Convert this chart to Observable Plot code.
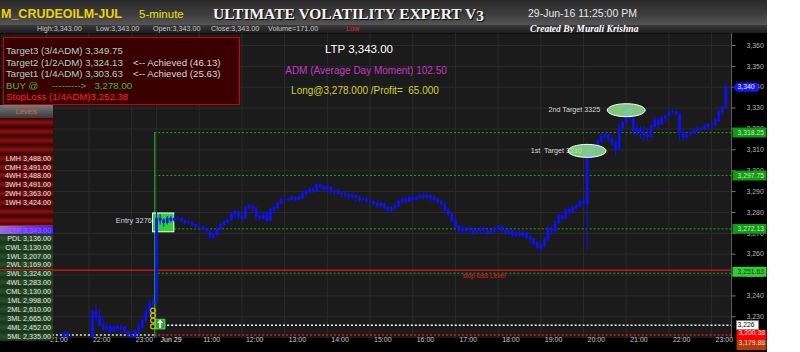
<!DOCTYPE html>
<html><head><meta charset="utf-8">
<script src="https://cdn.jsdelivr.net/npm/d3@7"></script>
<script src="https://cdn.jsdelivr.net/npm/@observablehq/plot@0.6"></script>
<style>
html,body{margin:0;padding:0;background:#fff;width:800px;height:352px;overflow:hidden;font-family:"Liberation Sans",Arial,sans-serif;}
#wrap{position:relative;width:767px;height:352px;background:#000;overflow:hidden;}
#band1{position:absolute;left:0;top:0;width:767px;height:25px;background:linear-gradient(#2a2a2a,#3c3c3c 55%,#565656);}
#band2{position:absolute;left:0;top:25px;width:767px;height:8px;background:linear-gradient(#3a3a3a,#1e1e1e);}
.t{position:absolute;white-space:nowrap;line-height:1;transform:translateY(-50%);}
.c{position:absolute;white-space:nowrap;line-height:1;transform:translate(-50%,-50%);}
#chart{position:absolute;left:0;top:33px;}
#info{position:absolute;left:3px;top:37px;width:237px;height:68px;box-sizing:border-box;background:#3a0000;border:1.5px solid #d00000;}
.il{position:absolute;left:2px;white-space:nowrap;font-size:9.7px;line-height:1;transform:translateY(-50%);}
#panel{position:absolute;left:0;top:105px;width:53px;}
.row{position:absolute;left:0;width:53px;height:9px;box-sizing:border-box;font-size:7.2px;color:#e4e4e4;text-align:right;padding-right:2px;line-height:9px;white-space:nowrap;}
.red{background:linear-gradient(#3c0404,#8a1010 50%,#3c0404);}
.grn{background:linear-gradient(#1a381a,#2a4e2a 50%,#173217);}
</style></head>
<body>
<div id="wrap">
  <div id="band1"></div><div id="band2"></div>
  <div class="t" style="left:1px;top:14px;font-weight:bold;font-size:12.5px;color:#f0d000">M_CRUDEOILM-JUL</div>
  <div class="t" style="left:139px;top:15px;font-size:11.5px;color:#e6e000">5-minute</div>
  <div class="t" style="left:213px;top:14px;font-family:'Liberation Serif',serif;font-weight:bold;font-size:15.5px;color:#f4f4f4;text-shadow:1px 1px 1px #000">ULTIMATE VOLATILITY EXPERT V<span style="position:relative;top:2px">3</span></div>
  <div class="t" style="left:528px;top:13px;font-size:10.5px;color:#e6e6e6">29-Jun-16 11:25:00 PM</div>
  <div class="t" style="left:37px;top:28.5px;font-size:7.2px;color:#c8c8c8">High:3,343.00</div>
  <div class="t" style="left:96px;top:28.5px;font-size:7.2px;color:#c8c8c8">Low:3,343.00</div>
  <div class="t" style="left:153px;top:28.5px;font-size:7.2px;color:#c8c8c8">Open:3,343.00</div>
  <div class="t" style="left:211px;top:28.5px;font-size:7.2px;color:#c8c8c8">Close:3,343.00</div>
  <div class="t" style="left:268px;top:28.5px;font-size:7.2px;color:#c8c8c8">Volume=171.00</div>
  <div class="t" style="left:346px;top:28.5px;font-size:7.2px;color:#e02020">Low</div>
  <div class="t" style="left:530px;top:29px;font-family:'Liberation Serif',serif;font-style:italic;font-weight:bold;font-size:9.6px;color:#fff">Created By Murali Krishna</div>
  <div id="chart"></div>
  <div class="c" style="left:359px;top:50px;font-size:11.5px;color:#fff">LTP 3,343.00</div>
  <div class="c" style="left:366px;top:71px;font-size:10px;color:#c836c8">ADM (Average Day Moment) 102.50</div>
  <div class="c" style="left:365px;top:91px;font-size:10px;color:#d0d028">Long@3,278.000 /Profit=&nbsp; 65.000</div>
  <div id="info">
    <div class="il" style="top:13px;color:#9fd8c4">Target3 (3/4ADM) 3,349.75</div>
    <div class="il" style="top:24.5px;color:#9fd8c4">Target2 (1/2ADM) 3,324.13</div>
    <div class="il" style="top:36px;color:#9fd8c4">Target1 (1/4ADM) 3,303.63</div>
    <div class="il" style="top:47.5px;color:#3cb83c">BUY @&nbsp;&nbsp;&nbsp;&nbsp; ---------&gt;&nbsp;&nbsp; 3,278.00</div>
    <div class="il" style="top:58.5px;color:#ff2020">StopLoss (1/4ADM)3,252.38</div>
    <div class="il" style="top:24.5px;left:129px;color:#d8d8d8">&lt;-- Achieved (46.13)</div>
    <div class="il" style="top:36px;left:129px;color:#d8d8d8">&lt;-- Achieved (25.63)</div>
  </div>
  <div id="panel"></div>
</div>
<script>
// ---------------- data ----------------
// Jun 28 session, 5-minute bars from 21:00 ; Jun 29 session from 10:00
const day1Start = "21:00";
const day1Close = [3219,3218,3217,3217,3218,3222,3219,3218,3217,3216,3217,3216,3218,3232,3230,3226,3224,3225,3223,3225,3224,3225,3223,3221,3220,3223,3225,3228,3232,3236,3237];
const day1High  = [3221,3220,3219,3219,3219,3223,3222,3220,3219,3218,3219,3218,3219,3233,3236,3233,3229,3226,3226,3226,3226,3226,3225,3223,3222,3224,3227,3230,3235,3238,3239];
const day1Low   = [3217,3216,3215,3216,3216,3218,3217,3216,3215,3214,3215,3215,3216,3218,3228,3225,3223,3223,3222,3223,3223,3222,3222,3219,3218,3219,3221,3224,3227,3230,3234];
const day1Open0 = 3220;
const day2Start = "10:00";
const day2Close = [
 3277,3276,3275,3277,3276,3277,3277,3276,3275,3275,
 3274,3273,3273,3272,3271,3268,3269,3272,3274,3275,
 3276,3279,3280,3278,3277,3282,3283,3282,3278,3277,
 3279,3276,3281,3282,3284,3286,3286,3286,3287,3286,
 3287,3289,3290,3291,3290,3293,3292,3291,3292,3290,
 3290,3289,3289,3288,3287,3288,3287,3286,3286,3285,
 3285,3284,3283,3284,3282,3281,3282,3283,3285,3286,
 3285,3287,3286,3287,3288,3287,3288,3287,3286,3285,
 3284,3281,3279,3276,3273,3271,3272,3271,3272,3270,
 3271,3272,3271,3270,3271,3272,3273,3271,3270,3271,
 3269,3270,3269,3270,3268,3267,3265,3263,3264,3267,
 3272,3271,3275,3278,3277,3281,3280,3282,3283,3285,
 3284,3309,3307,3310,3314,3316,3317,3315,3313,3310,
 3320,3323,3330,3325,3319,3320,3318,3317,3316,3321,
 3324,3322,3325,3326,3328,3328,3327,3318,3316,3317,
 3318,3319,3320,3320,3321,3322,3322,3324,3328,3330,
 3340];
const day2High = [
 3280,3279,3277,3278,3278,3279,3278,3277,3276,3276,
 3275,3274,3274,3273,3272,3271,3270,3273,3275,3276,
 3277,3280,3281,3281,3279,3283,3284,3283,3281,3279,
 3280,3280,3282,3283,3285,3287,3287,3287,3288,3287,
 3288,3290,3291,3292,3292,3294,3294,3293,3293,3292,
 3291,3291,3290,3290,3289,3289,3288,3288,3287,3287,
 3286,3286,3285,3285,3284,3283,3283,3284,3286,3287,
 3287,3288,3288,3288,3289,3289,3289,3288,3288,3287,
 3286,3284,3282,3279,3276,3274,3273,3273,3273,3272,
 3272,3273,3273,3272,3272,3273,3274,3273,3272,3272,
 3271,3271,3271,3271,3270,3269,3268,3266,3265,3268,
 3273,3273,3276,3279,3279,3282,3282,3283,3284,3286,
 3286,3313,3313,3312,3315,3318,3318,3317,3317,3314,
 3322,3324,3332,3330,3325,3322,3321,3321,3320,3322,
 3326,3324,3326,3327,3329,3329,3328,3321,3319,3318,
 3319,3320,3321,3321,3322,3322,3323,3325,3329,3331,
 3341];
const day2Low = [
 3238,3274,3273,3274,3275,3275,3276,3275,3274,3274,
 3273,3272,3272,3271,3270,3267,3267,3269,3271,3273,
 3275,3276,3277,3276,3276,3278,3281,3280,3276,3276,
 3277,3275,3276,3280,3281,3284,3285,3285,3286,3285,
 3286,3286,3288,3289,3289,3290,3291,3290,3290,3289,
 3288,3288,3287,3287,3286,3286,3285,3285,3285,3284,
 3284,3283,3282,3282,3281,3280,3280,3281,3282,3284,
 3284,3285,3285,3286,3286,3286,3286,3285,3285,3284,
 3283,3280,3278,3275,3272,3270,3270,3270,3271,3269,
 3270,3270,3270,3269,3270,3270,3271,3270,3269,3269,
 3268,3268,3268,3268,3267,3265,3264,3262,3261,3263,
 3266,3269,3270,3274,3276,3277,3279,3279,3281,3282,
 3283,3262,3305,3306,3309,3313,3315,3314,3312,3307,
 3312,3319,3322,3324,3317,3316,3315,3314,3314,3319,
 3320,3320,3323,3323,3326,3327,3326,3314,3314,3315,
 3316,3317,3318,3319,3319,3320,3320,3321,3323,3327,
 3330];

// x-axis labels
const xTickDay  = [1,1,1,2,2,2,2,2,2,2,2,2,2,2,2,2,2];
const xTickTime = ["21:00","22:00","23:00","10:00","11:00","12:00","13:00","14:00","15:00","16:00","17:00","18:00","19:00","20:00","21:00","22:00","23:00"];
const xTickText = ["21:00","22:00","23:00","Jun 29","11:00","12:00","13:00","14:00","15:00","16:00","17:00","18:00","19:00","20:00","21:00","22:00","23:00"];
// y-axis ticks
const yTickValues = [3230,3240,3250,3260,3270,3280,3290,3300,3310,3320,3330,3340,3350,3360];

// trade levels
const entryTime = "10:00";       // day 2
const entryPrice = 3276;
const entryRange = [3270.5, 3279.5];
const targetLevels = [3318.25, 3297.75, 3272.13, 3251.63];
const stopLoss = 3252.38;
const supportLevel = 3226;
const lowLevels = [3200.38, 3179.88];
const ltp = 3340;
const targetNames = ["1st  Target 3310", "2nd Target 3325"];
const targetHitTimes = ["20:05", "21:00"];   // day 2 bars where targets were touched
const targetHitPrices = [3309.5, 3329];
const signalTime = "23:30";                   // day 1
const signalCircles = [3233, 3230.6, 3228.2, 3225.4];
const buyArrowTime = "10:05";
const buyArrowPrice = 3226.5;
const stopLabelTime = "17:40";

// left level panel
const levelNamesTop = ["LMH 3,488.00","CMH 3,491.00","4WH 3,488.00","3WH 3,491.00","2WH 3,363.00","1WH 3,424.00"];
const levelNamesBottom = ["PDL 3,136.00","CWL 3,130.00","1WL 3,207.00","2WL 3,169.00","3WL 3,324.00","4WL 3,283.00","CML 3,130.00","1ML 2,998.00","2ML 2,610.00","3ML 2,665.00","4ML 2,452.00","5ML 2,335.00"];
const ltpLabel = "LTP 3,343.00";

// ---------------- build ----------------
const mins = s => { const [h, m] = s.split(":").map(Number); return h * 60 + m; };
const barIndex = (day, t) => day === 1 ? (mins(t) - mins(day1Start)) / 5 : day1Close.length + (mins(t) - mins(day2Start)) / 5;

const closes = day1Close.concat(day2Close);
const highs = day1High.concat(day2High);
const lows = day1Low.concat(day2Low);
const bars = closes.map((c, i) => ({i, o: i === 0 ? day1Open0 : closes[i - 1], c, h: highs[i], l: lows[i]}));

const xTicks = xTickTime.map((t, k) => ({i: barIndex(xTickDay[k], t), label: xTickText[k], bold: xTickText[k] === "Jun 29"}));
const entryBar = barIndex(2, entryTime);
const xDomain = [-12.86, 192.6];
const yDomain = [3219.8, 3365.74];
const clampLow = v => Math.max(v, yDomain[0] + 1.5);

const targets = targetNames.map((n, k) => ({name: n, i: barIndex(2, targetHitTimes[k]), p: targetHitPrices[k]}));

const ellipse = (rx, ry) => ({draw(ctx) {
  const k = 0.5523;
  ctx.moveTo(rx, 0);
  ctx.bezierCurveTo(rx, ry * k, rx * k, ry, 0, ry);
  ctx.bezierCurveTo(-rx * k, ry, -rx, ry * k, -rx, 0);
  ctx.bezierCurveTo(-rx, -ry * k, -rx * k, -ry, 0, -ry);
  ctx.bezierCurveTo(rx * k, -ry, rx, -ry * k, rx, 0);
  ctx.closePath();
}});
const boxSym = (w, h) => ({draw(ctx) { ctx.moveTo(0, -h / 2); ctx.lineTo(w, -h / 2); ctx.lineTo(w, h / 2); ctx.lineTo(0, h / 2); ctx.closePath(); }});
const arrowSym = {draw(ctx) { ctx.moveTo(0, 0); ctx.lineTo(5, -4.5); ctx.lineTo(26, -4.5); ctx.lineTo(26, 4.5); ctx.lineTo(5, 4.5); ctx.closePath(); }};
const tickSym = {draw(ctx) { ctx.moveTo(0, 0); ctx.lineTo(4, 0); }};
const upArrowSym = {draw(ctx) { ctx.moveTo(0, -4.5); ctx.lineTo(3, -1); ctx.lineTo(1, -1); ctx.lineTo(1, 4); ctx.lineTo(-1, 4); ctx.lineTo(-1, -1); ctx.lineTo(-3, -1); ctx.closePath(); }};

const tagData = [
  {v: ltp, label: "3,340"},
  {v: targetLevels[0], label: "3,318.25"},
  {v: targetLevels[1], label: "3,297.75"},
  {v: targetLevels[2], label: "3,272.13"},
  {v: targetLevels[3], label: "3,251.63"},
  {v: supportLevel, label: "3,226"},
  {v: lowLevels[0], label: "3,200.38"},
  {v: lowLevels[1], label: "3,179.88"}
];
const tagStyle = [
  {sym: arrowSym, fill: "#1414ff", stroke: "none", color: "#ffffff", dx: 6},
  {sym: boxSym(34, 10), fill: "#129a12", stroke: "none", color: "#c8f0c8", dx: 6},
  {sym: boxSym(34, 10), fill: "#129a12", stroke: "none", color: "#c8f0c8", dx: 6},
  {sym: boxSym(34, 10), fill: "#129a12", stroke: "none", color: "#c8f0c8", dx: 6},
  {sym: boxSym(34, 10), fill: "#33cc33", stroke: "none", color: "#173a17", dx: 6},
  {sym: boxSym(22, 9), fill: "#ffffff", stroke: "#888", color: "#000000", dx: 2, shift: 4},
  {sym: boxSym(30, 10), fill: "#ff0000", stroke: "none", color: "#ffe0e0", dx: 3, shift: 4, anchorDy: -3},
  {sym: boxSym(30, 10), fill: "#b83a0a", stroke: "none", color: "#f4d8c8", dx: 3, shift: 4, anchorDy: 7}
];

const tagMarks = tagData.flatMap((t, k) => {
  const s = tagStyle[k];
  const inside = t.v >= yDomain[0];
  const pos = inside ? {y: () => t.v, frameAnchor: "right"} : {frameAnchor: "bottom-right", dy: s.anchorDy};
  return [
    Plot.dot([t], {...pos, symbol: s.sym, r: 5, fill: s.fill, stroke: s.stroke, strokeWidth: 0.8, dx: 1 + (s.shift || 0)}),
    Plot.text([t], {...pos, text: d => d.label, textAnchor: "start", dx: s.dx + (s.shift || 0), fill: s.color, fontSize: 6.8})
  ];
});

const plot = Plot.plot({
  width: 768, height: 319,
  marginLeft: 0, marginRight: 36, marginTop: 0, marginBottom: 14,
  x: {domain: xDomain, axis: null},
  y: {domain: yDomain, axis: null},
  style: {background: "#000", fontFamily: "Liberation Sans, Arial, sans-serif", fontSize: "7px", color: "#b4b4b4", overflow: "visible"},
  marks: [
    Plot.frame({fill: "#1b1b1b", stroke: null}),
    Plot.ruleY(yTickValues, {stroke: "#2b2b2b", strokeWidth: 1}),
    Plot.ruleX(xTicks, {x: "i", stroke: "#2b2b2b", strokeWidth: 1}),
    // levels
    Plot.ruleY(targetLevels.slice(0, 3), {x1: entryBar - 0.5, x2: xDomain[1], stroke: "#1fa51f", strokeDasharray: "2,2"}),
    Plot.ruleY([stopLoss], {stroke: "#e41414", strokeWidth: 1.2}),
    Plot.ruleY([targetLevels[3]], {x1: entryBar + 0.5, x2: xDomain[1], dy: 1.5, stroke: "#1fa51f", strokeDasharray: "2,2"}),
    Plot.ruleY([supportLevel], {x1: entryBar + 2, x2: xDomain[1], stroke: "#ffffff", strokeDasharray: "2,2", strokeWidth: 1.5}),
    Plot.ruleY([clampLow(lowLevels[0])], {x1: entryBar - 0.5, x2: xDomain[1], stroke: "#e41414", strokeDasharray: "2,2", strokeWidth: 1.5}),
    Plot.ruleY([clampLow(lowLevels[0])], {x1: xDomain[0], x2: entryBar - 0.5, stroke: "#dddddd", strokeDasharray: "2,2", strokeWidth: 1.5}),
    Plot.ruleX([entryBar - 0.5], {y1: targetLevels[0], y2: yDomain[0], stroke: "#22a822", strokeWidth: 1.2}),
    // entry box
    Plot.rect([entryRange], {x1: entryBar - 1, x2: entryBar + 5, y1: d => d[0], y2: d => d[1], fill: "#2fd42f", stroke: "#ffffff", strokeWidth: 1}),
    Plot.text([entryPrice], {x: entryBar - 1, y: d => d, text: d => "Entry " + d, textAnchor: "end", dx: -1, fill: "#d4d4d4", fontSize: 7.5}),
    // target labels (drawn under the ellipses)
    Plot.text([targets[0]], {x: "i", y: "p", text: "name", textAnchor: "end", dx: -5, fill: "#d8d8d8", fontSize: 7.2}),
    Plot.text([targets[1]], {x: "i", y: "p", text: "name", textAnchor: "end", dx: -26, fill: "#d8d8d8", fontSize: 7.2}),
    // candles
    Plot.ruleX(bars, {x: "i", y1: "l", y2: "h", stroke: "#0c10ff", strokeWidth: 1, clip: true}),
    Plot.ruleX(bars, {x: "i", y1: d => Math.min(d.o, d.c) - 0.25, y2: d => Math.max(d.o, d.c) + 0.25, stroke: "#0c10ff", strokeWidth: 2.7, clip: true}),
    // target ellipses
    Plot.dot(targets, {x: "i", y: "p", symbol: ellipse(19, 6.5), r: 5, fill: "#96ee96", fillOpacity: 0.82, stroke: "#ffffff", strokeWidth: 1}),
    // signal markers
    Plot.dot(signalCircles, {x: barIndex(1, signalTime), y: d => d, r: 2.4, stroke: "#c8b400", strokeWidth: 1.3, fill: "none"}),
    Plot.dot([buyArrowPrice], {x: barIndex(2, buyArrowTime), y: d => d, symbol: "square", r: 5.5, fill: "#22aa22", stroke: "#6ee06e", strokeWidth: 0.8}),
    Plot.dot([buyArrowPrice], {x: barIndex(2, buyArrowTime), y: d => d, symbol: upArrowSym, r: 3, fill: "#ffffff", stroke: "none"}),
    Plot.text([stopLoss], {x: barIndex(2, stopLabelTime), y: d => d, text: () => "stop loss Level", dy: 6, fill: "#e02020", fontSize: 6.5}),
    // right axis
    Plot.ruleX([xDomain[1]], {stroke: "#5c5c5c"}),
    Plot.dot(yTickValues, {y: d => d, frameAnchor: "right", symbol: tickSym, r: 3, stroke: "#777", strokeWidth: 1}),
    Plot.text(yTickValues, {y: d => d, frameAnchor: "right", text: d => d3.format(",")(d), textAnchor: "start", dx: 15, fill: "#b8b8b8", fontSize: 6.9}),
    ...tagMarks,
    // bottom axis labels
    Plot.text(xTicks, {x: "i", frameAnchor: "bottom", text: "label", textAnchor: "start", dx: 4, dy: 4, fill: d => d.bold ? "#e8e8e8" : "#c4c4c4", fontWeight: d => d.bold ? "bold" : "normal", fontSize: 7})
  ]
});
document.getElementById("chart").appendChild(plot);

// left level panel
const panel = document.getElementById("panel");
const addRow = (top, cls, text, style) => {
  const d = document.createElement("div");
  d.className = "row " + cls; d.style.top = top + "px"; d.textContent = text || "";
  if (style) Object.assign(d.style, style);
  panel.appendChild(d);
};
const hdr = document.createElement("div");
Object.assign(hdr.style, {position: "absolute", left: "0", top: "0", width: "53px", height: "13px", background: "linear-gradient(#7a7a7a,#3a3a3a)", color: "#d06a44", fontSize: "7.5px", textAlign: "center", lineHeight: "13px"});
hdr.textContent = "Levels"; panel.appendChild(hdr);
const rowH = 8.9, row0 = 13;
let r = 0;
for (let k = 0; k < 4; k++) addRow(row0 + rowH * r++, "red", "");
levelNamesTop.forEach(n => addRow(row0 + rowH * r++, "red", n));
for (let k = 0; k < 2; k++) addRow(row0 + rowH * r++, "red", "");
addRow(row0 + rowH * r++, "", ltpLabel, {background: "linear-gradient(90deg,#9a70d8,#5a48f0 50%,#2a2aff)", color: "#e040f0", borderTop: "1.5px solid #d01010"});
levelNamesBottom.forEach(n => addRow(row0 + rowH * r++, "grn", n));

// stop-loss line continues over the level panel
const yStop = plot.scale("y").apply(stopLoss);
const sl = document.createElement("div");
Object.assign(sl.style, {position: "absolute", left: "0", width: "53px", height: "1.2px", background: "#e41414", top: (33 + yStop - 0.6) + "px"});
document.getElementById("wrap").appendChild(sl);
</script>
</body></html>
